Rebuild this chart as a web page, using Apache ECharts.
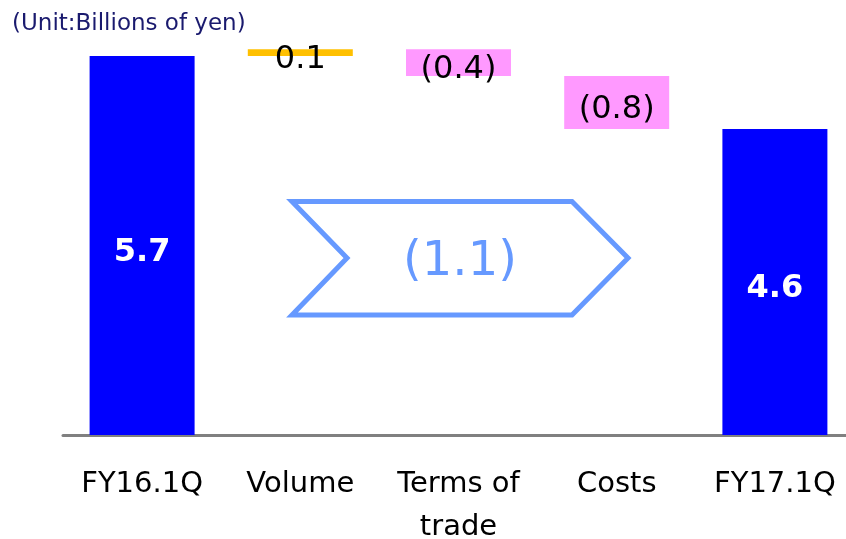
<!DOCTYPE html>
<html>
<head>
<meta charset="utf-8">
<script src="https://cdn.jsdelivr.net/npm/echarts@6/dist/echarts.min.js"></script>
<style>
  html, body { margin: 0; padding: 0; background: #fff; }
  #chart { width: 846px; height: 539px; }
</style>
</head>
<body>
<div id="chart"></div>
<script>
// 数据
const categories = ["FY16.1Q", "Volume", "Terms of\ntrade", "Costs", "FY17.1Q"];
const changes = [5.7, 0.1, -0.4, -0.8, 4.6];
const isTotal = [true, false, false, false, true];
const barColors = ["#0000FF", "#FFC000", "#FF99FF", "#FF99FF", "#0000FF"];
const totalChange = -1.1;

// 瀑布图：透明底 + 可见部分
let running = 0;
const baseData = [];
const valueData = [];
changes.forEach((v, i) => {
  if (isTotal[i]) {
    baseData.push(0);
    valueData.push(v);
    running = v;
  } else {
    const next = running + v;
    baseData.push(Math.min(running, next));
    valueData.push(Math.abs(v));
    running = next;
  }
});

function fmt(v) {
  return v < 0 ? "(" + Math.abs(v).toFixed(1) + ")" : v.toFixed(1);
}

const myChart = echarts.init(document.getElementById("chart"));
const option = {
  animation: false,
  grid: { left: 63, width: 791, top: 36, bottom: 104, outerBoundsMode: "none" },
  xAxis: {
    type: "category",
    data: categories,
    axisLine: { show: true, lineStyle: { color: "#808080", width: 3 } },
    axisTick: { show: false },
    axisLabel: {
      color: "#000",
      fontFamily: "DejaVu Sans",
      fontSize: 29,
      lineHeight: 43,
      margin: 28,
      interval: 0,
    },
  },
  yAxis: { type: "value", min: 0, max: 6, show: false },
  graphic: [
    {
      type: "text",
      x: 12,
      y: 24,
      style: {
        text: "(Unit:Billions of yen)",
        fill: "#1a1a6e",
        font: "23px 'DejaVu Sans'",
        verticalAlign: "middle",
      },
    },
    {
      type: "polygon",
      shape: {
        points: [
          [292, 201.5], [572, 201.5], [628, 258],
          [572, 315], [292, 315], [347, 258],
        ],
      },
      style: { fill: "none", stroke: "#6699FF", lineWidth: 5, lineJoin: "miter" },
    },
    {
      type: "text",
      x: 460,
      y: 263,
      style: {
        text: fmt(totalChange),
        fill: "#6699FF",
        font: "48px 'DejaVu Sans'",
        align: "center",
        verticalAlign: "middle",
      },
    },
  ],
  series: [
    {
      type: "bar",
      stack: "w",
      barWidth: 105,
      itemStyle: { color: "transparent" },
      silent: true,
      data: baseData,
    },
    {
      type: "bar",
      stack: "w",
      barWidth: 105,
      data: valueData.map((v, i) => ({
        value: v,
        itemStyle: { color: barColors[i] },
        label: isTotal[i]
          ? { color: "#fff", fontWeight: "bold" }
          : { color: "#000", fontWeight: "normal" },
      })),
      label: {
        show: true,
        position: "inside",
        offset: [0, 7],
        fontFamily: "DejaVu Sans",
        fontSize: 32,
        formatter: (p) => fmt(changes[p.dataIndex]),
      },
    },
  ],
};
myChart.setOption(option);
</script>
</body>
</html>
